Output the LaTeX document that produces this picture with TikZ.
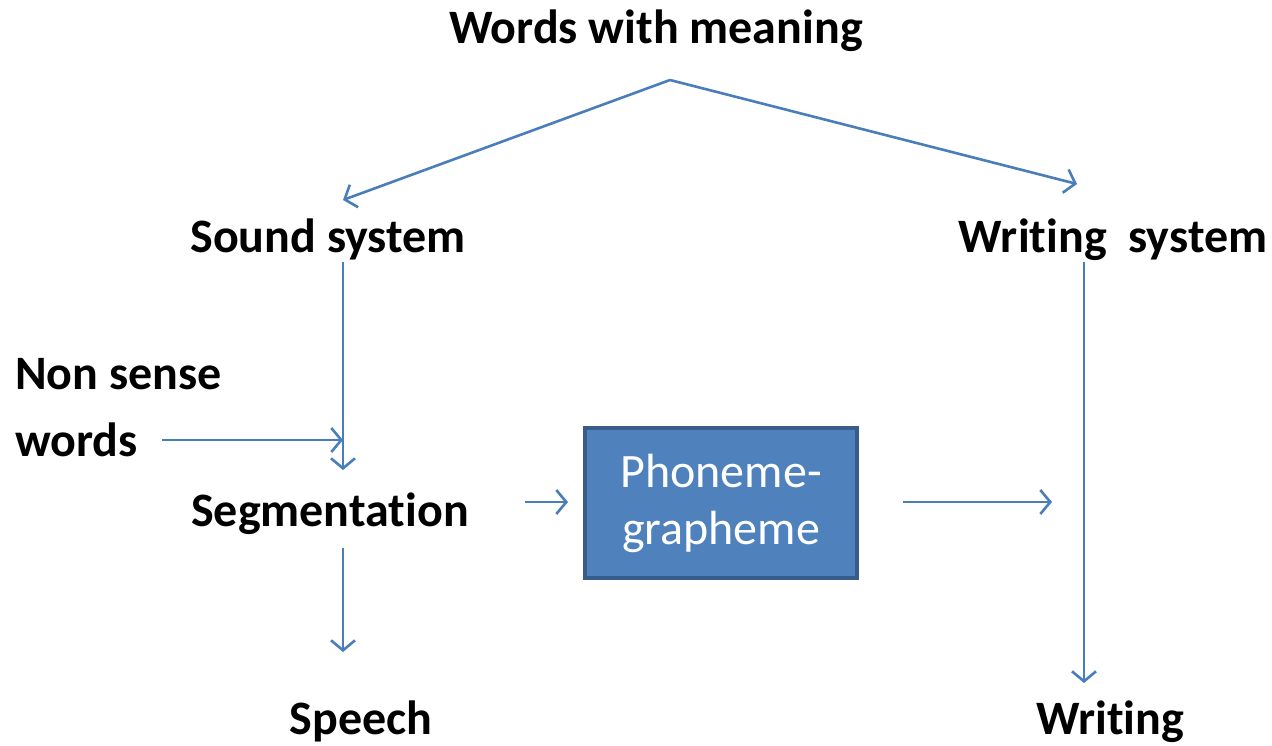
\documentclass[tikz,border=0pt]{standalone}
\usepackage{fontspec}
\setmainfont{Carlito}[RawFeature={-liga;-clig;-dlig;-calt}]
\usetikzlibrary{arrows.meta}
\definecolor{arrowblue}{HTML}{4A7EBB}
\definecolor{boxfill}{HTML}{4F81BD}
\definecolor{boxline}{HTML}{385D8A}
\begin{document}
\begin{tikzpicture}[x=1pt,y=-1pt,
  lbl/.style={font=\fontsize{48}{58}\selectfont\bfseries, inner sep=0pt, anchor=base},
  conn/.style={draw=arrowblue, line width=2.6pt, -{Straight Barb[length=10pt,width=24pt,line width=2.6pt]}},
  procbox/.style={draw=boxline, fill=boxfill, line width=3.5pt, minimum width=272pt, minimum height=150pt,
     text=white, align=center, font=\fontsize{48}{57}\selectfont, inner sep=0pt}]
\useasboundingbox (0,0) rectangle (1272,745);
\node[lbl] (wwm) at (656,43) {Words with meaning};
\node[lbl] (ss) at (328,252) {Sound system};
\node[lbl] (ws) at (1113,252) {Writ\kern0pt ing\ \ system};
\node[lbl, anchor=base west] (ns1) at (15,389) {Non sense};
\node[lbl, anchor=base west] (ns2) at (15,456) {words};
\node[lbl] (seg) at (330,526) {Segmentat\kern0pt ion};
\node[lbl] (sp) at (361,734) {Speech};
\node[lbl] (wr) at (1110,734) {Writ\kern0pt ing};
\node[procbox] (pg) at (721,503) {Phoneme-\\grapheme};
\coordinate (apex) at (670,80);
\coordinate (sstip) at (343,200);
\coordinate (wstip) at (1077,184);
\coordinate (ssdown) at (343,262);
\coordinate (segtip) at (343,470);
\coordinate (nsstart) at (162,440);
\coordinate (nstip) at (343,440);
\coordinate (segdown) at (343,548);
\coordinate (sptip) at (343,652);
\coordinate (segright) at (525,502);
\coordinate (pgtip) at (568,502);
\coordinate (pgright) at (903,502);
\coordinate (pgend) at (1052,502);
\coordinate (wsdown) at (1084,262);
\coordinate (wrtip) at (1084,683);
\draw[conn] (apex) -- (sstip);
\draw[conn] (apex) -- (wstip);
\draw[conn] (ssdown) -- (segtip);
\draw[conn] (nsstart) -- (nstip);
\draw[conn] (segdown) -- (sptip);
\draw[conn] (segright) -- (pgtip);
\draw[conn] (pgright) -- (pgend);
\draw[conn] (wsdown) -- (wrtip);
\end{tikzpicture}
\end{document}
